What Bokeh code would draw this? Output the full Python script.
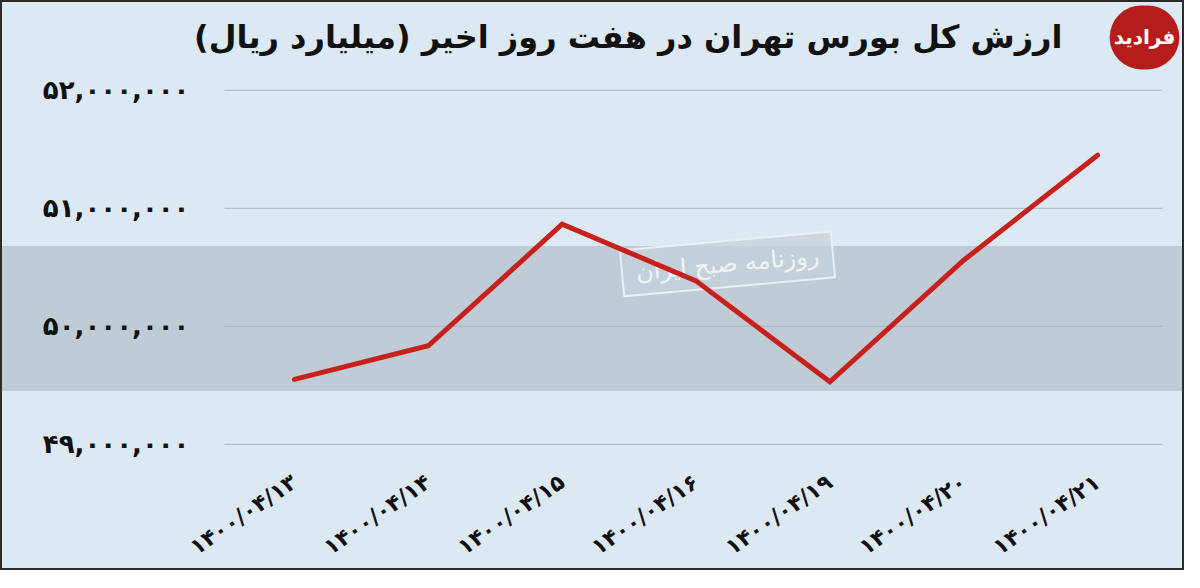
from bokeh.plotting import figure
from bokeh.models import Range1d, FixedTicker, Label, ColumnDataSource
from bokeh.embed import file_html
from bokeh.resources import INLINE

# ---------------- data ----------------
title_text = "ارزش کل بورس تهران در هفت روز اخیر (میلیارد ریال)"
dates = ["۱۴۰۰/۰۴/۱۳", "۱۴۰۰/۰۴/۱۴", "۱۴۰۰/۰۴/۱۵", "۱۴۰۰/۰۴/۱۶",
         "۱۴۰۰/۰۴/۱۹", "۱۴۰۰/۰۴/۲۰", "۱۴۰۰/۰۴/۲۱"]
values = [49550000, 49835000, 50865000, 50385000, 49530000, 50560000, 51450000]
y_ticks = [49000000, 50000000, 51000000, 52000000]
y_tick_labels = ["۴۹,۰۰۰,۰۰۰", "۵۰,۰۰۰,۰۰۰", "۵۱,۰۰۰,۰۰۰", "۵۲,۰۰۰,۰۰۰"]
logo_text = "فرادید"
stamp_text = "روزنامه صبح ایران"

# ---------------- style / layout ----------------
BG = "#dce8f2"
BAND = "#bfcbd5"
GRID = "#a8b5c0"
RED = "#c8201d"
FONT = "DejaVu Sans"
W, H = 1184, 570
LEFT, BOTTOM = 188, 116          # panel sizes (px)
PX_PER_X = 133.86                # px per category step
X_START = -0.5 - (225 - LEFT) / PX_PER_X
X_END = 6.5 + 22 / PX_PER_X
Y_START, Y_END = 48905000, 52744000
BAND_TOP_PX, BAND_BOTTOM_PX = 244, 389
GRID_X0_PX, GRID_X1_PX = 222, 1160


def cx(px):
    """canvas x pixel -> data x (for decorations)"""
    return X_START + (px - LEFT) / (W - LEFT) * (X_END - X_START)


def cy(py):
    """canvas y pixel (from top) -> data y (for decorations)"""
    return Y_END - py / (H - BOTTOM) * (Y_END - Y_START)


xs = list(range(len(dates)))
src = ColumnDataSource(dict(x=xs, value=values))

p = figure(width=W, height=H,
           x_range=Range1d(X_START, X_END),
           y_range=Range1d(Y_START, Y_END),
           output_backend="svg", toolbar_location=None,
           min_border_left=LEFT, min_border_right=0,
           min_border_top=0, min_border_bottom=BOTTOM,
           background_fill_color=None, border_fill_color=None,
           outline_line_color=None)

p.styles = {
    "background": (f"linear-gradient(to bottom, {BG} 0px, {BG} {BAND_TOP_PX}px, "
                   f"{BAND} {BAND_TOP_PX}px, {BAND} {BAND_BOTTOM_PX}px, "
                   f"{BG} {BAND_BOTTOM_PX}px, {BG} 100%)"),
    "border": "2px solid #2a2a2a",
}

# watermark stamp
p.add_layout(Label(x=cx(725), y=cy(262), text=stamp_text, angle=0.09,
                   text_align="center", text_baseline="middle",
                   text_font=FONT, text_font_size="24px", text_color="#eef3f8",
                   background_fill_color="#c6d1da", background_fill_alpha=0.7,
                   border_line_color="#e9eff5", border_line_width=2,
                   padding=(14, 9), level="underlay"))

# horizontal grid lines
grid_src = ColumnDataSource(dict(y=y_ticks,
                                 x0=[cx(GRID_X0_PX)] * len(y_ticks),
                                 x1=[cx(GRID_X1_PX)] * len(y_ticks)))
p.segment(x0="x0", x1="x1", y0="y", y1="y", source=grid_src,
          line_color=GRID, line_width=1, level="underlay")

p.line("x", "value", source=src, line_color=RED, line_width=5,
       line_cap="round", line_join="miter")

# axes
p.yaxis.ticker = FixedTicker(ticks=y_ticks)
p.yaxis.major_label_overrides = {t: l for t, l in zip(y_ticks, y_tick_labels)}
p.yaxis.axis_line_color = None
p.yaxis.major_tick_in = 0
p.yaxis.major_tick_out = 0
p.yaxis.minor_tick_line_color = None
p.yaxis.major_label_standoff = 1
p.yaxis.major_label_text_font = FONT
p.yaxis.major_label_text_font_style = "bold"
p.yaxis.major_label_text_font_size = "26px"
p.yaxis.major_label_text_color = "#111111"

p.xaxis.ticker = FixedTicker(ticks=xs)
p.xaxis.major_label_overrides = {i: d for i, d in zip(xs, dates)}
p.xaxis.axis_line_color = None
p.xaxis.major_tick_in = 0
p.xaxis.major_tick_out = 0
p.xaxis.minor_tick_line_color = None
p.xaxis.major_label_orientation = 0.6
p.xaxis.major_label_standoff = 24
p.xaxis.major_label_text_font = FONT
p.xaxis.major_label_text_font_style = "bold"
p.xaxis.major_label_text_font_size = "22px"
p.xaxis.major_label_text_color = "#111111"

p.xgrid.grid_line_color = None
p.ygrid.grid_line_color = None

# title
p.add_layout(Label(x=cx(1060), y=cy(35), text="\u200f" + title_text + "\u200f",
                   text_align="right", text_baseline="middle",
                   text_font=FONT, text_font_style="bold", text_font_size="32px",
                   text_color="#111111"))

# logo
p.add_layout(Label(x=cx(1142), y=cy(35),
                   text=logo_text, text_align="center", text_baseline="middle",
                   text_font=FONT, text_font_style="bold", text_font_size="20px",
                   text_color="white", background_fill_color="#b51d1d",
                   padding=(4, 20), border_radius=32))

open("out.html", "w").write(file_html(p, INLINE))
